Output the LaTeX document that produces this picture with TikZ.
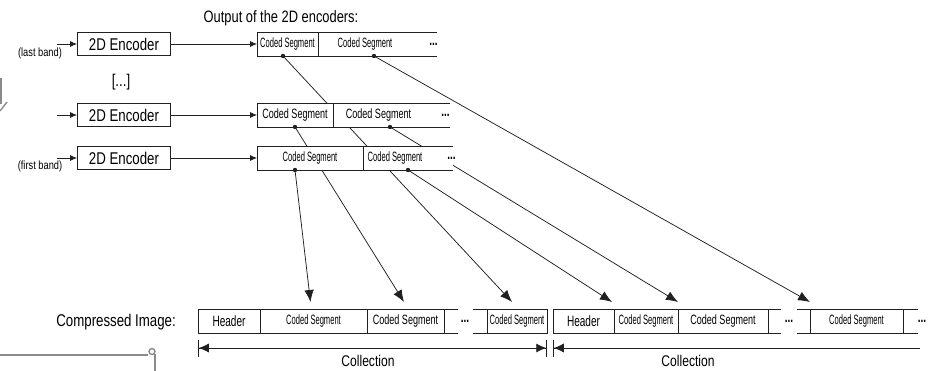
\documentclass[tikz,border=0pt]{standalone}
\usepackage{fontspec}
\setmainfont{Liberation Sans}[FakeStretch=0.78]
\newfontfamily\segfont{Liberation Sans}[FakeStretch=0.67]
\newfontfamily\tightfont{Liberation Sans}[FakeStretch=0.56]
\usetikzlibrary{arrows.meta, positioning, backgrounds}
\definecolor{inkgray}{HTML}{202020}
\definecolor{scrapgray}{HTML}{8A8A8A}

\begin{document}
\begin{tikzpicture}[
    x=1pt, y=-1pt,
    enc/.style={draw=inkgray, line width=0.9pt, fill=white, minimum width=93pt, minimum height=23pt, inner sep=0pt, font=\fontsize{17}{19}\selectfont},
    seg/.style={draw=inkgray, line width=0.9pt, fill=white, minimum height=24pt, inner sep=0pt, outer sep=0pt, anchor=west, font=\segfont\fontsize{13.5}{15}\selectfont},
    tseg/.style={seg, font=\tightfont\fontsize{13.5}{15}\selectfont},
    hdr/.style={seg, font=\segfont\fontsize{15}{17}\selectfont},
    tail/.style={fill=white, minimum height=24pt, inner sep=0pt, outer sep=0pt, anchor=west},
    more/.style={inner sep=0pt, font=\segfont\bfseries\fontsize{15}{17}\selectfont},
    lbl/.style={inner sep=0pt, font=\fontsize{17}{19}\selectfont},
    band/.style={inner sep=0pt, font=\fontsize{11.9}{13}\selectfont},
    dot/.style={circle, fill=inkgray, inner sep=0pt, minimum size=4.4pt},
    rim/.style={line width=0.9pt, inkgray},
    feed/.style={-{Latex[length=7pt, width=6pt]}, line width=0.75pt, inkgray},
    map/.style={-{Latex[length=12pt, width=9.5pt]}, line width=0.75pt, inkgray},
    span/.style={line width=0.75pt, inkgray},
    scrap/.style={line width=1.4pt, scrapgray},
]
    \useasboundingbox (0,0) rectangle (932,370);

    % Encoders
    \node[enc] (encL) at (124,44) {2D Encoder};
    \node[enc] (encM) at (124,115) {2D Encoder};
    \node[enc] (encB) at (124,158) {2D Encoder};
    \coordinate (inL) at (57,44);
    \coordinate (inM) at (57,115);
    \coordinate (inB) at (57,158);
    \node[band] (lastb) at (40,53) {(last band)};
    \node[band] (firstb) at (40,166) {(first band)};
    \node[lbl] (etc) at (121,82) {[...]};

    % Encoder outputs
    \node[lbl, anchor=base, font=\fontsize{16.5}{18}\selectfont] (outtitle) at (281,22) {Output of the 2D encoders:};
    \node[tseg, minimum width=61pt] (t1) at (257,44) {Coded Segment};
    \node[tseg, minimum width=94pt, right=0pt of t1] (t2) {Coded Segment};
    \node[tail, minimum width=25pt, right=0.45pt of t2] (t3) {};
    \node[more] (tdots) at ([xshift=-4pt]t3.east) {...};
    \node[seg, minimum width=76pt] (m1) at (257,115) {Coded Segment};
    \node[seg, minimum width=91pt, right=0pt of m1] (m2) {Coded Segment};
    \node[tail, minimum width=26pt, right=0.45pt of m2] (m3) {};
    \node[more] (mdots) at ([xshift=-5pt]m3.east) {...};
    \node[tseg, minimum width=106pt] (b1) at (257,158) {Coded Segment};
    \node[tseg, minimum width=64pt, right=0pt of b1] (b2) {Coded Segment};
    \node[tail, minimum width=26pt, right=0.45pt of b2] (b3) {};
    \node[more] (bdots) at ([xshift=-2pt]b3.east) {...};
    \foreach \r in {t,m,b}
        \draw[rim] (\r2.north east) -- (\r3.north east) (\r2.south east) -- (\r3.south east);

    % Compressed image
    \node[lbl, anchor=east] (cimg) at (176,322) {Compressed Image:};
    \node[hdr, minimum width=62pt] (h1) at (198,321) {Header};
    \node[tseg, minimum width=107pt, right=0pt of h1] (c1) {Coded Segment};
    \node[seg, minimum width=77pt, right=0pt of c1] (c2) {Coded Segment};
    \node[more] (cdots1) at (465,321) {...};
    \node[tseg, minimum width=60pt] (c3) at (487,321) {Coded Segment};
    \node[hdr, minimum width=61pt] (h2) at (553,321) {Header};
    \node[tseg, minimum width=64pt, right=0pt of h2] (c4) {Coded Segment};
    \node[seg, minimum width=90pt, right=0pt of c4] (c5) {Coded Segment};
    \node[more] (cdots2) at (789,321) {...};
    \node[tseg, minimum width=93pt] (c6) at (810,321) {Coded Segment};
    \node[more] (cdots3) at (922,321) {...};
    \draw[rim] (c2.north east) -- ++(14,0) (c2.south east) -- ++(14,0);
    \draw[rim] (c3.north west) -- ++(-14,0) (c3.south west) -- ++(-14,0);
    \draw[rim] (c5.north east) -- ++(13,0) (c5.south east) -- ++(13,0);
    \draw[rim] (c6.north west) -- ++(-13,0) (c6.south west) -- ++(-13,0);
    \draw[rim] (c6.north east) -- ++(15,0) (c6.south east) -- ++(15,0);

    % Collections
    \draw[span, {Bar[width=17pt,sep=0pt]Latex[length=10pt,width=9pt]}-{Latex[length=10pt,width=9pt,sep=0pt]Bar[width=17pt]}] ([yshift=-15pt]h1.south west) -- ([yshift=-15pt]c3.south east);
    \draw[span, {Bar[width=17pt,sep=0pt]Latex[length=10pt,width=9pt]}-] ([yshift=-15pt]h2.south west) -- ([xshift=17pt,yshift=-15pt]c6.south east);
    \node[lbl, anchor=base, font=\fontsize{15.5}{17}\selectfont] (coll1) at (368,366) {Collection};
    \node[lbl, anchor=base, font=\fontsize{15.5}{17}\selectfont] (coll2) at (688,366) {Collection};

    % Segment dots
    \node[dot] (d1) at ([xshift=-4.5pt]t1.south) {};
    \node[dot] (d2) at ([xshift=9pt]t2.south) {};
    \node[dot] (d3) at (m1.south) {};
    \node[dot] (d4) at ([xshift=11.5pt]m2.south) {};
    \node[dot] (d5) at ([xshift=-15pt]b1.south) {};
    \node[dot] (d6) at ([xshift=13pt]b2.south) {};

    % Arrows
    \draw[feed] (inL) -- (encL);
    \draw[feed] (inM) -- (encM);
    \draw[feed] (inB) -- (encB);
    \draw[feed] (encL) -- (t1);
    \draw[feed] (encM) -- (m1);
    \draw[feed] (encB) -- (b1);
    \begin{scope}[on background layer]
        \draw[map] (d1.center) -- ([xshift=-5pt,yshift=7pt]c3.north);
        \draw[map] (d2.center) -- ([yshift=7pt]c6.north west);
        \draw[map] (d3.center) -- ([xshift=-1.5pt,yshift=7pt]c2.north);
        \draw[map] (d4.center) -- ([yshift=7pt]c4.north east);
        \draw[map] (d5.center) -- ([xshift=-3pt,yshift=7pt]c1.north);
        \draw[map] (d6.center) -- ([xshift=-2pt,yshift=7pt]c4.north west);
    \end{scope}

    % Scraps at the edges
    \draw[scrap] (1,78) -- (1,104);
    \draw[scrap] (0,111) -- (7,102);
    \draw[scrap] (0,355) -- (148,355);
    \draw[scrap] (152,351.5) circle (3);
    \draw[scrap] (155,354) -- (155,372);
\end{tikzpicture}
\end{document}
